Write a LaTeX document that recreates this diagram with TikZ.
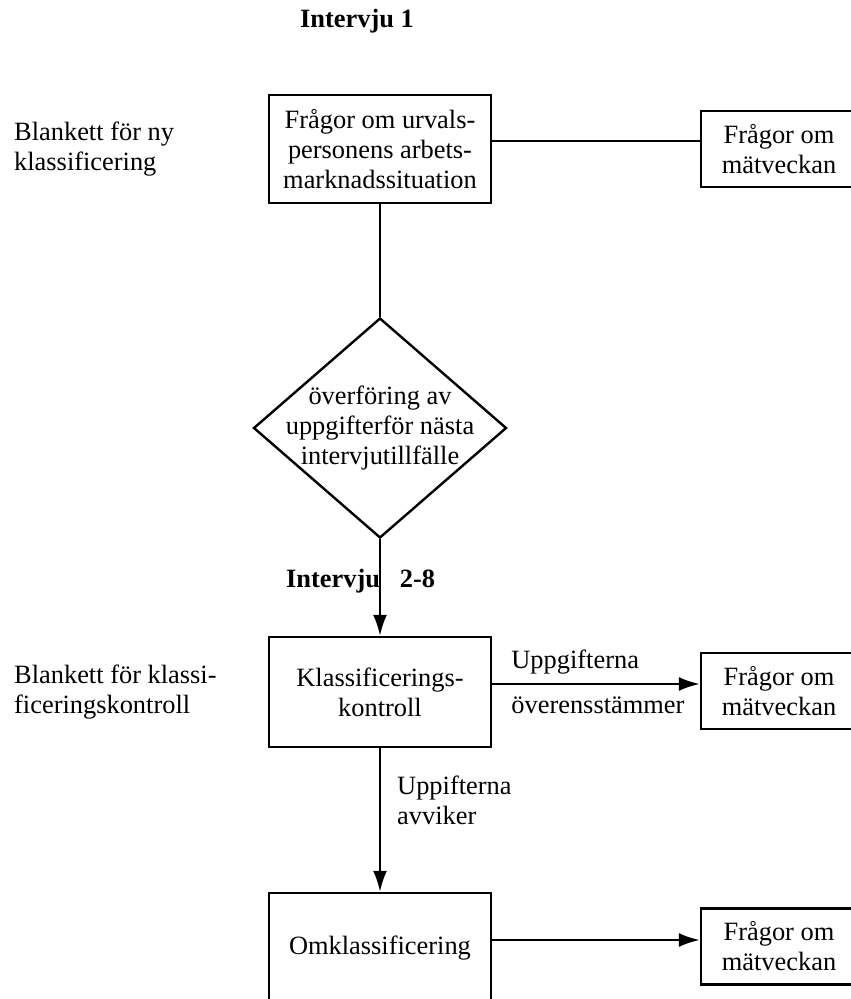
\documentclass[tikz,border=0pt]{standalone}
\usepackage{fontspec}
\setmainfont{Liberation Serif}
\usetikzlibrary{shapes.geometric,arrows.meta}
\newcommand{\sz}{\fontsize{13.2}{15}\selectfont}

\begin{document}
\begin{tikzpicture}[x=0.5pt, y=-0.5pt, line width=1.2pt,
    every node/.style={font=\sz},
    box/.style={draw, align=center, minimum width=111pt, minimum height=55pt, inner sep=2pt},
    qbox/.style={draw, align=center, minimum width=78pt, minimum height=38pt, inner sep=2pt},
    choice/.style={draw, diamond, minimum width=126.5pt, minimum height=110pt, inner sep=0pt},
    lbl/.style={inner sep=0pt, align=left},
    head/.style={font=\sz\bfseries, inner sep=0pt},
    arr/.style={-{Latex[length=10.5pt,width=7pt]}}]
    \useasboundingbox (0,0) rectangle (850,999);
    % headings and side notes
    \node[head, anchor=base] (int1) at (357,28) {Intervju 1};
    \node[head, anchor=base west] (int2) at (285,587) {Intervju~~~2-8};
    \node[lbl, anchor=west] (blank1) at (13,149) {Blankett för ny\\klassificering};
    \node[lbl, anchor=west] (blank2) at (13,692) {Blankett för klassi-\\ficeringskontroll};
    % main column
    \node[box, minimum height=54pt] (top) at (380,149) {Frågor om urvals-\\personens arbets-\\marknadssituation};
    \node[choice, label={[lbl, align=center]center:{överföring av\\uppgifterför nästa\\intervjutillfälle}}] (ovf) at (380,428) {};
    \node[box] (klass) at (380,692) {Klassificerings-\\kontroll};
    \node[box] (omkl) at (380,948) {Omklassificering};
    % right column
    \node[qbox] (fraga1) at (779,149) {Frågor om\\mätveckan};
    \node[qbox] (fraga2) at (779,691) {Frågor om\\mätveckan};
    \node[qbox] (fraga3) at (779,946.5) {Frågor om\\mätveckan};
    % connectors
    \draw ([yshift=4pt]top.east) -- ([yshift=4pt]top.east -| fraga1.west);
    \draw (top) -- (ovf);
    \draw[arr] (ovf) -- (klass);
    \draw[arr] ([yshift=4pt]klass.east) -- ([yshift=4pt]klass.east -| fraga2.west)
        node[lbl, pos=0, anchor=base west, xshift=9pt, yshift=8pt] {Uppgifterna}
        node[lbl, pos=0, anchor=base west, xshift=9pt, yshift=-14.5pt] {överensstämmer};
    \draw[arr] (klass) -- (omkl) node[lbl, pos=0.36, anchor=west, xshift=8pt] {Uppifterna\\avviker};
    \draw[arr] ([yshift=4pt]omkl.east) -- ([yshift=4pt]omkl.east -| fraga3.west);
\end{tikzpicture}
\end{document}
